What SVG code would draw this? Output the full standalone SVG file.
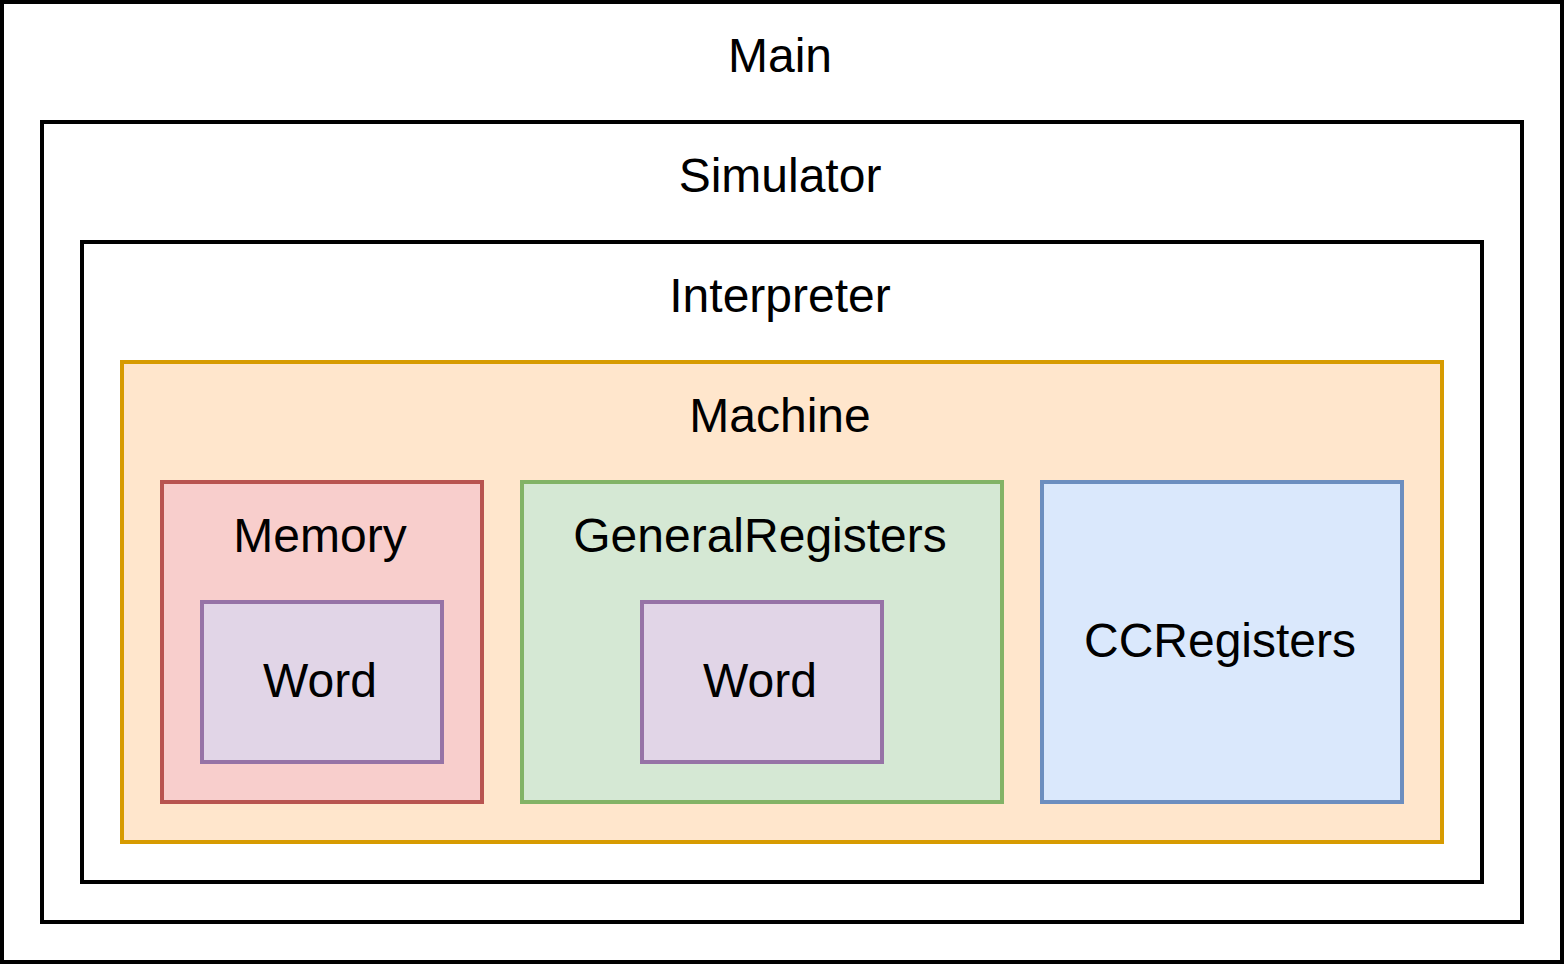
<svg xmlns="http://www.w3.org/2000/svg" width="1564" height="964" viewBox="0 0 1564 964">
<style>
.box{stroke-width:4}
text{font-family:"Liberation Sans",Arial,sans-serif;font-size:48px;text-anchor:middle;fill:#000}
.plain{fill:#fff;stroke:#000}
.mach{fill:#ffe6cc;stroke:#d79b00}
.mem{fill:#f8cecc;stroke:#b85450}
.gen{fill:#d5e8d4;stroke:#82b366}
.cc{fill:#dae8fc;stroke:#6c8ebf}
.word{fill:#e1d5e7;stroke:#9673a6}
</style>
<rect width="1564" height="964" fill="#fff"/>
<g id="main"><rect class="box plain" x="2" y="2" width="1560" height="960"/><text x="780" y="72">Main</text></g>
<g id="simulator"><rect class="box plain" x="42" y="122" width="1480" height="800"/><text x="780" y="192">Simulator</text></g>
<g id="interpreter"><rect class="box plain" x="82" y="242" width="1400" height="640"/><text x="780" y="312">Interpreter</text></g>
<g id="machine"><rect class="box mach" x="122" y="362" width="1320" height="480"/><text x="780" y="432">Machine</text></g>
<g id="memory"><rect class="box mem" x="162" y="482" width="320" height="320"/><text x="320" y="552">Memory</text></g>
<g id="word1"><rect class="box word" x="202" y="602" width="240" height="160"/><text x="320" y="697">Word</text></g>
<g id="generalregisters"><rect class="box gen" x="522" y="482" width="480" height="320"/><text x="760" y="552">GeneralRegisters</text></g>
<g id="word2"><rect class="box word" x="642" y="602" width="240" height="160"/><text x="760" y="697">Word</text></g>
<g id="ccregisters"><rect class="box cc" x="1042" y="482" width="360" height="320"/><text x="1220" y="657">CCRegisters</text></g>
<g id="connectors"/>
</svg>
